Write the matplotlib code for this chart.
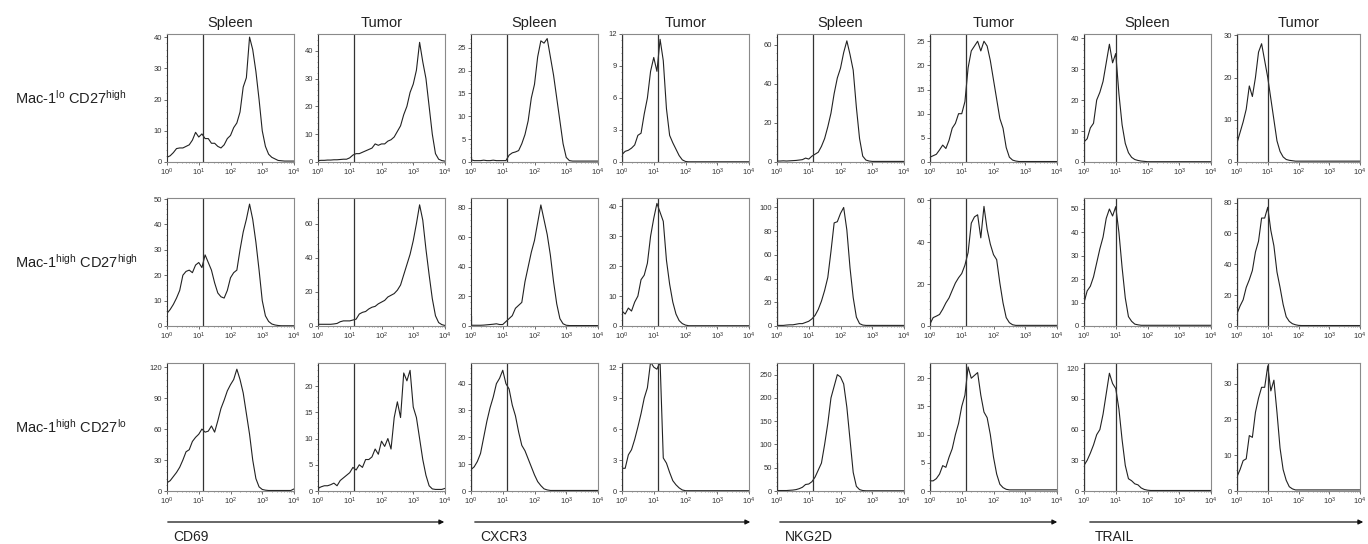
import numpy as np
import matplotlib
matplotlib.use("Agg")
import matplotlib.pyplot as plt
from matplotlib.ticker import MultipleLocator, LogLocator, NullFormatter, FixedLocator, FixedFormatter

plt.rcParams['font.family'] = ['Liberation Sans', 'DejaVu Sans']
plt.rcParams['mathtext.fontset'] = 'custom'
plt.rcParams['mathtext.rm'] = 'Liberation Sans'
plt.rcParams['mathtext.it'] = 'Liberation Sans:italic'
plt.rcParams['mathtext.bf'] = 'Liberation Sans:bold'

markers = ["CD69", "CXCR3", "NKG2D", "TRAIL"]
tissues = ["Spleen", "Tumor"]
row_labels = [r"Mac-1$^{\mathregular{lo}}$ CD27$^{\mathregular{high}}$",
              r"Mac-1$^{\mathregular{high}}$ CD27$^{\mathregular{high}}$",
              r"Mac-1$^{\mathregular{high}}$ CD27$^{\mathregular{lo}}$"]
gates = [14, 14, 14, 10]  # gate line position for each marker

# histogram bins: log10 intensity 0.0, 0.1, ... 4.0
log_bins = np.arange(41) / 10

# ---- row 1: Mac-1lo CD27high
cd69_spl_1 = [1.5, 2, 3, 4.3, 4.5, 4.5, 5, 5.5, 7, 9.5, 8, 9, 7.5, 7.5, 6, 6, 5, 4.5, 5.5, 7.5, 8.5,
              11, 12.5, 16, 24, 27, 40, 36, 29, 20, 10, 5, 2.5, 1.5, 1, 0.5, 0.4, 0.3, 0.3, 0.3, 0.3]
cd69_tum_1 = [0.5, 0.6, 0.6, 0.7, 0.7, 0.8, 0.8, 0.9, 1, 1, 1.5, 2.5, 3, 3, 3.5, 4, 4.5, 5, 6.5, 6, 6.5,
              6.5, 7.5, 8, 9, 11, 13, 17, 20, 25, 28, 33, 43, 36, 30, 20, 10, 3, 1, 0.5, 0.3]
cxcr3_spl_1 = [0.5, 0.3, 0.3, 0.3, 0.4, 0.3, 0.3, 0.4, 0.3, 0.3, 0.3, 0.3, 1.5, 2, 2.2, 2.5, 4, 6, 9, 14, 17,
               23, 26.5, 26, 27, 23, 19, 14, 9, 4, 1, 0.3, 0.2, 0.2, 0.2, 0.2, 0.2, 0.2, 0.2, 0.2, 0.2]
cxcr3_tum_1 = [0.7, 1.0, 1.1, 1.3, 1.6, 2.5, 2.7, 4.5, 6, 8.5, 9.8, 8.5, 11.5, 9.5, 5, 2.5, 1.8, 1.2, 0.6, 0.2, 0.05,
               0.02, 0.02, 0.02, 0.02, 0.02, 0.02, 0.02, 0.02, 0.02, 0.02, 0.02, 0.02, 0.02, 0.02, 0.02, 0.02, 0.02, 0.02, 0.02, 0.02]
nkg2d_spl_1 = [0.5, 0.5, 0.6, 0.5, 0.6, 0.7, 0.8, 1, 1.2, 2, 1.5, 3, 4, 5, 8, 12, 18, 25, 35, 43, 48,
               56, 62, 55, 47, 28, 12, 3, 1, 0.5, 0.3, 0.3, 0.3, 0.3, 0.3, 0.3, 0.3, 0.3, 0.3, 0.3, 0.3]
nkg2d_tum_1 = [1, 1.3, 1.6, 2.5, 3.5, 2.8, 4.5, 7, 8, 10, 10, 12.5, 19.5, 23, 24, 25, 23, 25, 24, 21, 17,
               13, 9, 7, 3, 1, 0.4, 0.2, 0.1, 0.1, 0.1, 0.1, 0.1, 0.1, 0.1, 0.1, 0.1, 0.1, 0.1, 0.1, 0.1]
trail_spl_1 = [6.5, 7.5, 11, 12.5, 20, 22.5, 26, 32, 38, 32, 35, 22, 12, 6, 3, 1.5, 0.8, 0.5, 0.3, 0.2, 0.1,
               0.1, 0.1, 0.1, 0.1, 0.1, 0.1, 0.1, 0.1, 0.1, 0.1, 0.1, 0.1, 0.1, 0.1, 0.1, 0.1, 0.1, 0.1, 0.1, 0.1]
trail_tum_1 = [4.5, 7, 9.5, 12.5, 18, 15.5, 20, 26, 28, 24, 20, 15, 10, 5, 2.5, 1.2, 0.6, 0.4, 0.3, 0.2, 0.2,
               0.2, 0.2, 0.2, 0.2, 0.2, 0.2, 0.2, 0.2, 0.2, 0.2, 0.2, 0.2, 0.2, 0.2, 0.2, 0.2, 0.2, 0.2, 0.2, 0.2]

# ---- row 2: Mac-1high CD27high
cd69_spl_2 = [5, 6.5, 8.5, 11, 14, 20, 21.5, 22, 21, 24, 25, 23, 28, 25, 22, 17, 13, 11.5, 11, 14, 19,
              21, 22, 30, 37, 42, 48, 42, 33, 22, 10, 4, 1.8, 0.8, 0.4, 0.2, 0.1, 0.1, 0.1, 0.1, 0.1]
cd69_tum_2 = [1, 1, 1, 1, 1, 1.2, 1.5, 2.5, 3, 3, 3, 3.5, 4, 7, 8, 8.5, 10, 11, 11.5, 13, 14,
              15, 17, 18, 19, 21, 24, 30, 36, 42, 50, 60, 71, 62, 45, 30, 16, 6, 2, 0.8, 0.3]
cxcr3_spl_2 = [0.5, 0.5, 0.5, 0.5, 0.6, 0.8, 1, 1.2, 1.5, 1, 1, 3, 5, 7, 12, 14, 16, 30, 40, 50, 58,
               70, 82, 72, 62, 48, 30, 15, 5, 1.5, 0.5, 0.3, 0.3, 0.3, 0.3, 0.3, 0.3, 0.3, 0.3, 0.3, 0.3]
cxcr3_tum_2 = [5, 4, 6, 5, 8, 10, 15.5, 17, 21, 30, 36, 41, 38, 35, 22, 14, 8, 4, 1.8, 0.8, 0.3,
               0.1, 0.1, 0.1, 0.1, 0.1, 0.1, 0.1, 0.1, 0.1, 0.1, 0.1, 0.1, 0.1, 0.1, 0.1, 0.1, 0.1, 0.1, 0.1, 0.1]
nkg2d_spl_2 = [0.5, 0.5, 0.5, 0.8, 1, 1, 1.5, 2, 2, 3, 4, 6, 9, 14, 21, 30, 41, 63, 87, 88, 95,
               100, 81, 49, 24, 7.5, 2, 0.8, 0.5, 0.5, 0.5, 0.5, 0.5, 0.5, 0.5, 0.5, 0.5, 0.5, 0.5, 0.5, 0.5]
nkg2d_tum_2 = [1, 4, 4.7, 5.5, 8, 11, 13.4, 17, 20.5, 23, 25, 29, 35, 49, 52, 53, 42, 57, 46, 39, 34,
               31.6, 20.5, 11, 4, 1.6, 0.6, 0.3, 0.3, 0.3, 0.3, 0.3, 0.3, 0.3, 0.3, 0.3, 0.3, 0.3, 0.3, 0.3, 0.3]
trail_spl_2 = [10, 15, 17, 21, 27, 33, 38, 46, 50, 47, 51, 40, 25, 12, 4, 2, 0.8, 0.5, 0.3, 0.3, 0.3,
               0.3, 0.3, 0.3, 0.3, 0.3, 0.3, 0.3, 0.3, 0.3, 0.3, 0.3, 0.3, 0.3, 0.3, 0.3, 0.3, 0.3, 0.3, 0.3, 0.3]
trail_tum_2 = [8, 13, 17, 25, 30, 36, 48, 55, 70, 70, 77, 62, 52, 35, 25, 14, 6, 3, 1.5, 0.8, 0.4,
               0.3, 0.3, 0.3, 0.3, 0.3, 0.3, 0.3, 0.3, 0.3, 0.3, 0.3, 0.3, 0.3, 0.3, 0.3, 0.3, 0.3, 0.3, 0.3, 0.3]

# ---- row 3: Mac-1high CD27lo
cd69_spl_3 = [8, 10, 14, 18, 23, 30, 38, 40, 48, 52, 55, 60, 57, 58, 63, 57, 68, 80, 88, 97, 103,
              108, 118, 108, 95, 75, 55, 30, 12, 4, 1.5, 0.8, 0.5, 0.5, 0.5, 0.5, 0.5, 0.5, 0.5, 0.5, 2]
cd69_tum_3 = [0.5, 0.8, 1, 1, 1.2, 1.5, 1, 2, 2.5, 3, 3.5, 4.5, 4, 5, 4.5, 6, 6, 6.5, 8, 7, 9.5,
              8.5, 10, 8, 14, 17, 14, 22.5, 21, 23, 16, 14, 10, 6, 3, 1, 0.4, 0.3, 0.3, 0.3, 0.5]
cxcr3_spl_3 = [8, 9, 11, 14, 20, 26, 31, 35, 40, 42, 45, 40, 38, 32, 28, 22, 17, 15, 12, 9, 6,
               3.5, 2, 0.8, 0.4, 0.2, 0.2, 0.2, 0.2, 0.2, 0.2, 0.2, 0.2, 0.2, 0.2, 0.2, 0.2, 0.2, 0.2, 0.2, 0.2]
cxcr3_tum_3 = [2.2, 2.2, 3.5, 4, 5, 6.2, 7.5, 9, 10, 12.5, 12, 11.8, 12.5, 3.2, 2.7, 1.8, 1, 0.6, 0.3, 0.1, 0.03,
               0.03, 0.03, 0.03, 0.03, 0.03, 0.03, 0.03, 0.03, 0.03, 0.03, 0.03, 0.03, 0.03, 0.03, 0.03, 0.03, 0.03, 0.03, 0.03, 0.03]
nkg2d_spl_3 = [1, 1, 1, 1, 1.5, 2, 3, 5, 8, 14, 15, 20, 30, 45, 60, 100, 145, 200, 225, 250, 245,
               230, 180, 110, 40, 10, 3, 1, 0.5, 0.5, 0.5, 0.5, 0.5, 0.5, 0.5, 0.5, 0.5, 0.5, 0.5, 0.5, 0.5]
nkg2d_tum_3 = [1.8, 1.8, 2.2, 3, 4.5, 4.2, 6, 7.5, 10, 12, 15, 17, 22, 20, 20.5, 21, 17, 14, 13, 10, 6,
               3, 1.2, 0.6, 0.3, 0.2, 0.2, 0.2, 0.2, 0.2, 0.2, 0.2, 0.2, 0.2, 0.2, 0.2, 0.2, 0.2, 0.2, 0.2, 0.2]
trail_spl_3 = [25, 30, 37, 45, 55, 60, 75, 95, 115, 105, 100, 80, 50, 25, 12, 10, 7, 6, 3, 1.5, 0.8,
               0.5, 0.5, 0.5, 0.5, 0.5, 0.5, 0.5, 0.5, 0.5, 0.5, 0.5, 0.5, 0.5, 0.5, 0.5, 0.5, 0.5, 0.5, 0.5, 0.5]
trail_tum_3 = [4, 6, 8.5, 9, 15.5, 15, 22, 26, 29, 29, 35, 28, 31, 22, 12, 6, 3, 1.2, 0.6, 0.3, 0.3,
               0.3, 0.3, 0.3, 0.3, 0.3, 0.3, 0.3, 0.3, 0.3, 0.3, 0.3, 0.3, 0.3, 0.3, 0.3, 0.3, 0.3, 0.3, 0.3, 0.3]

# pile-up of events in the first channel (drawn at x = 10^0)
spikes = [[0, 29, 1, 12, 45, 26, 41, 30],
          [0, 45, 7, 43, 20, 61, 54, 83],
          [0, 1, 47, 12.4, 60, 22.7, 125, 35.8]]
y_tops = [[41, 46, 28, 12, 65.5, 26.5, 41.3, 30.3],
          [50.4, 75, 86.7, 42.8, 108, 61, 54.7, 83],
          [124, 24.4, 47.7, 12.4, 275, 22.7, 125, 35.8]]
y_steps = [[10, 10, 5, 3, 20, 5, 10, 10],
           [10, 20, 20, 10, 20, 20, 10, 20],
           [30, 5, 10, 3, 50, 5, 30, 10]]

rows = [[cd69_spl_1, cd69_tum_1, cxcr3_spl_1, cxcr3_tum_1, nkg2d_spl_1, nkg2d_tum_1, trail_spl_1, trail_tum_1],
        [cd69_spl_2, cd69_tum_2, cxcr3_spl_2, cxcr3_tum_2, nkg2d_spl_2, nkg2d_tum_2, trail_spl_2, trail_tum_2],
        [cd69_spl_3, cd69_tum_3, cxcr3_spl_3, cxcr3_tum_3, nkg2d_spl_3, nkg2d_tum_3, trail_spl_3, trail_tum_3]]

W, H = 1368, 544
fig = plt.figure(figsize=(W / 100, H / 100), dpi=100)

col_left = [167, 318, 471, 622, 777, 930, 1084, 1237]
col_w = [127, 127, 127, 127, 127, 127, 127, 123]
row_top = [34, 198, 363]
ax_h = 128

line_col = '#222222'
x = 10 ** log_bins

for r in range(3):
    for c in range(8):
        ax = fig.add_axes([col_left[c] / W, 1 - (row_top[r] + ax_h) / H, col_w[c] / W, ax_h / H])
        ax.plot(x, rows[r][c], color=line_col, lw=0.8)
        if spikes[r][c] > 0:
            ax.vlines(1, 0, spikes[r][c], color=line_col, lw=1.6)
        ax.axvline(gates[c // 2], color='#333333', lw=0.9)
        ax.set_xscale('log')
        ax.set_xlim(1, 1e4)
        ax.set_ylim(0, y_tops[r][c])
        ax.xaxis.set_major_locator(FixedLocator([1, 10, 100, 1000, 10000]))
        ax.xaxis.set_major_formatter(FixedFormatter([r'$10^{0}$', r'$10^{1}$', r'$10^{2}$', r'$10^{3}$', r'$10^{4}$']))
        ax.xaxis.set_minor_locator(LogLocator(base=10, subs=np.arange(2, 10)))
        ax.xaxis.set_minor_formatter(NullFormatter())
        ax.yaxis.set_major_locator(MultipleLocator(y_steps[r][c]))
        ax.yaxis.set_minor_locator(MultipleLocator(y_steps[r][c] / 5))
        ax.tick_params(which='major', labelsize=5.5, length=2, width=0.5, pad=1.5, colors='#333333')
        ax.tick_params(which='minor', length=1, width=0.4, colors='#555555')
        for s in ax.spines.values():
            s.set_color('#8a8a8a')
            s.set_linewidth(0.8)
        ax.spines['left'].set_color('#333333')
        if r == 0:
            ax.set_title(tissues[c % 2], fontsize=10.5, pad=5, color='#222222')

for r in range(3):
    fig.text(15 / W, 1 - (row_top[r] + ax_h / 2) / H, row_labels[r], fontsize=10.5,
             ha='left', va='center', color='#222222')

# marker arrows under each pair of columns
arrow_ends = [(165, 447), (472, 753), (777, 1060), (1087, 1366)]
for i, m in enumerate(markers):
    x0, x1 = arrow_ends[i]
    fig.add_artist(matplotlib.patches.FancyArrowPatch(
        (x0 / W, 1 - 522 / H), (x1 / W, 1 - 522 / H), transform=fig.transFigure,
        arrowstyle='-|>', mutation_scale=7, lw=0.9, color='#111111'))
    fig.text((x0 + 8) / W, 1 - 537 / H, m, fontsize=10, ha='left', va='center', color='#222222')

fig.savefig('out.png', dpi=100)
